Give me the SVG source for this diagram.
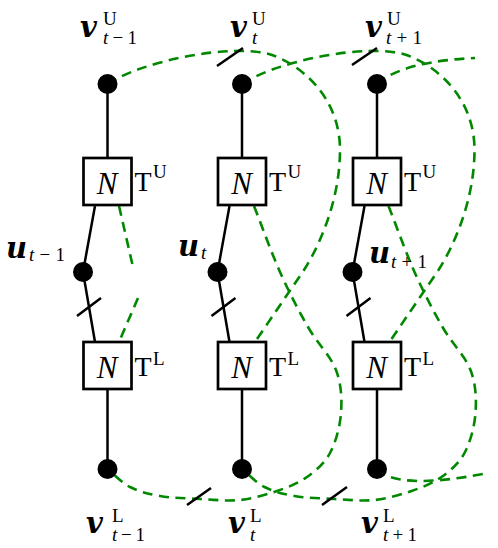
<svg xmlns="http://www.w3.org/2000/svg" xmlns:xlink="http://www.w3.org/1999/xlink" width="498" height="548" viewBox="0 0 498 548">
<style>
.ln{stroke:#000;stroke-width:2.5;fill:none}
.gd{stroke:#008800;stroke-width:2.6;fill:none;stroke-dasharray:10 6.5}
.box{fill:#fff;stroke:#000;stroke-width:2.7}
.dot{fill:#000}
.bi{font-family:"DejaVu Serif",serif;font-weight:bold;font-style:italic;font-size:29px}
.sup{font-family:"Liberation Serif",serif;font-size:19px}
.sub{font-family:"Liberation Serif",serif;font-size:19px}
.it{font-style:italic}
.N{font-family:"Liberation Serif",serif;font-style:italic;font-size:31px;text-anchor:middle}
.T{font-family:"Liberation Serif",serif;font-size:28px}
</style>
<defs>
<path id="curveA" d="M107.5,84 C140,62 232,42 272,55 C305,67 340,100 340,150 C340,195 323,240 304,270 L255,342"/>
<path id="curveD" d="M254,206 C262.7,228 271,251.8 280,272 C289,292.2 298.7,310.7 308,327 C317.3,343.3 330.5,355.7 336,370 C341.5,384.3 342,399.2 341,413 C340,426.8 335.7,442.3 330,453 C324.3,463.7 315.8,470.7 307,477 C298.2,483.3 288.2,487.2 277,491 C265.8,494.8 252.8,498.7 240,500 C227.2,501.3 213.3,499.7 200,499 C186.7,498.3 171.7,498 160,496 C148.3,494 138.75,491.5 130,487 C121.25,482.5 115,475 107.5,469"/>
</defs>
<g id="connectors">
<path class="ln" d="M107.5,84V158 M95,206L83,272L95,342 M107.5,389V469"/>
<path class="ln" d="M242,84V158 M229.5,206L217.5,272L229.5,342 M242,389V469"/>
<path class="ln" d="M377,84V158 M364.5,206L352.5,272L364.5,342 M377,389V469"/>
<path class="ln" d="M77,316L101,298 M211.5,316L235.5,298 M346.5,316L370.5,298"/>
<use xlink:href="#curveA" class="gd"/>
<use xlink:href="#curveA" class="gd" transform="translate(134.5,0)"/>
<use xlink:href="#curveD" class="gd"/>
<use xlink:href="#curveD" class="gd" transform="translate(134.5,0)"/>
<path class="gd" d="M119,206 L133,267 M138,298 L119,342"/>
<path class="gd" d="M377,84 C395,68 430,60 475,58"/>
<path class="gd" d="M377,469 C390,484 430,484 483,474"/>
<path class="ln" d="M217,66L243,48 M352,65L377,48 M187,505L211,488 M322,505L347,487"/>
</g>
<g id="vU_tm1"><circle class="dot" cx="107.5" cy="84" r="10"/>
<text class="bi" x="80" y="37">v</text><text class="sup" x="103" y="25">U</text><text class="sub" x="103" y="44" textLength="34" lengthAdjust="spacing"><tspan class="it">t</tspan>−1</text></g>
<g id="vU_t"><circle class="dot" cx="242" cy="84" r="10"/>
<text class="bi" x="230" y="37">v</text><text class="sup" x="252" y="25">U</text><text class="sub it" x="252" y="44">t</text></g>
<g id="vU_tp1"><circle class="dot" cx="377" cy="84" r="10"/>
<text class="bi" x="365" y="37">v</text><text class="sup" x="387" y="25">U</text><text class="sub" x="386" y="44" textLength="36" lengthAdjust="spacing"><tspan class="it">t</tspan>+1</text></g>
<g id="TU_tm1"><rect class="box" x="83.5" y="158" width="48" height="47"/><text class="N" x="107" y="194">N</text><text class="T" x="134.5" y="191">T</text><text class="sup" x="153" y="178">U</text></g>
<g id="TU_t"><rect class="box" x="218" y="158" width="48" height="47"/><text class="N" x="241.5" y="194">N</text><text class="T" x="269" y="191">T</text><text class="sup" x="287.5" y="178">U</text></g>
<g id="TU_tp1"><rect class="box" x="353" y="158" width="48" height="47"/><text class="N" x="376.5" y="194">N</text><text class="T" x="404" y="191">T</text><text class="sup" x="422.5" y="178">U</text></g>
<g id="u_tm1"><circle class="dot" cx="83" cy="272" r="10"/><text class="bi" x="6" y="258">u</text><text class="sub" x="29" y="261" textLength="36" lengthAdjust="spacing"><tspan class="it">t</tspan>−1</text></g>
<g id="u_t"><circle class="dot" cx="217.5" cy="272" r="10"/><text class="bi" x="178" y="256">u</text><text class="sub it" x="201" y="259">t</text></g>
<g id="u_tp1"><circle class="dot" cx="352.5" cy="272" r="10"/><text class="bi" x="369" y="263">u</text><text class="sub" x="391" y="268" textLength="36" lengthAdjust="spacing"><tspan class="it">t</tspan>+1</text></g>
<g id="TL_tm1"><rect class="box" x="83.5" y="342" width="48" height="47"/><text class="N" x="107" y="378">N</text><text class="T" x="134.5" y="376">T</text><text class="sup" x="153" y="365">L</text></g>
<g id="TL_t"><rect class="box" x="218" y="342" width="48" height="47"/><text class="N" x="241.5" y="378">N</text><text class="T" x="269" y="376">T</text><text class="sup" x="287.5" y="365">L</text></g>
<g id="TL_tp1"><rect class="box" x="353" y="342" width="48" height="47"/><text class="N" x="376.5" y="378">N</text><text class="T" x="404" y="376">T</text><text class="sup" x="422.5" y="365">L</text></g>
<g id="vL_tm1"><circle class="dot" cx="107.5" cy="469" r="10"/>
<text class="bi" x="86" y="533">v</text><text class="sup" x="112" y="522">L</text><text class="sub" x="112" y="541" textLength="33" lengthAdjust="spacing"><tspan class="it">t</tspan>−1</text></g>
<g id="vL_t"><circle class="dot" cx="242" cy="469" r="10"/>
<text class="bi" x="228" y="533">v</text><text class="sup" x="250" y="522">L</text><text class="sub it" x="250" y="541">t</text></g>
<g id="vL_tp1"><circle class="dot" cx="377" cy="469" r="10"/>
<text class="bi" x="361" y="533">v</text><text class="sup" x="383" y="522">L</text><text class="sub" x="383" y="541" textLength="34" lengthAdjust="spacing"><tspan class="it">t</tspan>+1</text></g>
</svg>
